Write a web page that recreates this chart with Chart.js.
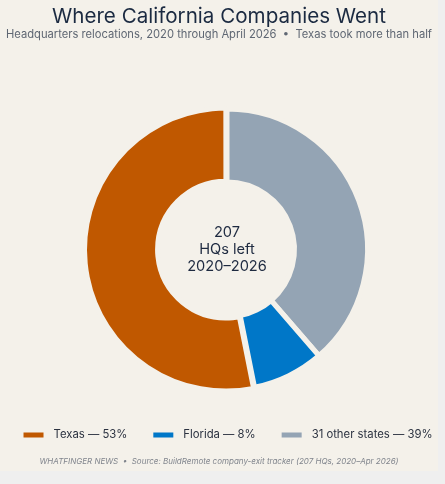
<!DOCTYPE html>
<html>
<head>
<meta charset="utf-8">
<script src="https://cdn.jsdelivr.net/npm/chart.js@4"></script>
<style>
  html, body { margin: 0; padding: 0; background: #efefef; }
  #card { position: relative; width: 438px; height: 471px; background: #f4f1ea; overflow: hidden; }
  #title { position: absolute; left: 0; width: 438px; top: 1px; text-align: center;
    font-family: Inter, sans-serif; font-size: 20.6px; font-weight: 400; color: #1b2a41; line-height: 30px; }
  #subtitle { position: absolute; left: 0; width: 438px; top: 26px; text-align: center;
    font-family: Inter, sans-serif; font-size: 11.2px; color: #5f6773; line-height: 16px; white-space: nowrap; }
  #footer { position: absolute; left: 0; width: 438px; top: 454px; text-align: center;
    font-family: Inter, sans-serif; font-size: 8px; font-style: italic; color: #80858d; line-height: 14px; white-space: nowrap; }
  #chartBox { position: absolute; left: 0; top: 0; width: 438px; height: 471px; }
</style>
</head>
<body>
<div id="card">
  <div id="chartBox"><canvas id="c"></canvas></div>
  <div id="title">Where California Companies Went</div>
  <div id="subtitle">Headquarters relocations, 2020 through April 2026 &nbsp;•&nbsp; Texas took more than half</div>
  <div id="footer">WHATFINGER NEWS &nbsp;•&nbsp; Source: BuildRemote company-exit tracker (207 HQs, 2020–Apr 2026)</div>
</div>
<script>
// Data (drawn clockwise from 12 o'clock)
const categories = ['31 other states', 'Florida', 'Texas'];
const hqCounts = [80, 17, 110];
const sliceColors = ['#94a4b4', '#0077c8', '#c05800'];
const legendOrder = [2, 1, 0];
const centerLines = ['207', 'HQs left', '2020–2026'];

const total = hqCounts.reduce((a, b) => a + b, 0);
const pct = hqCounts.map(v => Math.round(v / total * 100));
const BG = '#f4f1ea';

const centerText = {
  id: 'centerText',
  afterDatasetsDraw(chart) {
    const arc = chart.getDatasetMeta(0).data[0];
    const { ctx } = chart;
    ctx.save();
    ctx.fillStyle = '#1e2a40';
    ctx.font = '400 14.6px Inter, sans-serif';
    ctx.textAlign = 'center';
    ctx.textBaseline = 'middle';
    const lh = 16.7;
    centerLines.forEach((t, i) => {
      ctx.fillText(t, arc.x, arc.y + (i - 1) * lh);
    });
    ctx.restore();
  }
};

// Legend row drawn on the chart canvas, items taken from the chart's own data
const legendRow = {
  id: 'legendRow',
  afterDraw(chart) {
    const { ctx } = chart;
    const ds = chart.data.datasets[0];
    const font = '400 11.3px Inter, sans-serif';
    const boxW = 20, boxH = 5, boxGap = 10, itemGap = 26;
    const cy = 435, cx = 228;
    ctx.save();
    ctx.font = font;
    const items = legendOrder.map(i => {
      const text = chart.data.labels[i] + ' — ' + pct[i] + '%';
      return { text, color: ds.backgroundColor[i], w: ctx.measureText(text).width };
    });
    const totalW = items.reduce((s, it) => s + boxW + boxGap + it.w, 0) + itemGap * (items.length - 1);
    let x = cx - totalW / 2;
    ctx.textBaseline = 'middle';
    ctx.textAlign = 'left';
    items.forEach(it => {
      ctx.fillStyle = it.color;
      ctx.fillRect(x, cy - boxH / 2, boxW, boxH);
      ctx.fillStyle = '#2b3240';
      ctx.fillText(it.text, x + boxW + boxGap, cy);
      x += boxW + boxGap + it.w + itemGap;
    });
    ctx.restore();
  }
};

new Chart(document.getElementById('c'), {
  type: 'doughnut',
  data: {
    labels: categories,
    datasets: [{
      data: hqCounts,
      backgroundColor: sliceColors,
      borderColor: BG,
      borderWidth: 5,
      offset: [0, 0, 4],
      hoverOffset: 0
    }]
  },
  options: {
    responsive: true,
    maintainAspectRatio: false,
    animation: false,
    cutout: '48%',
    layout: { padding: { top: 104.5, left: 16, right: 0, bottom: 76.5 } },
    plugins: {
      tooltip: { enabled: false },
      legend: { display: false }
    }
  },
  plugins: [centerText, legendRow]
});
</script>
</body>
</html>
